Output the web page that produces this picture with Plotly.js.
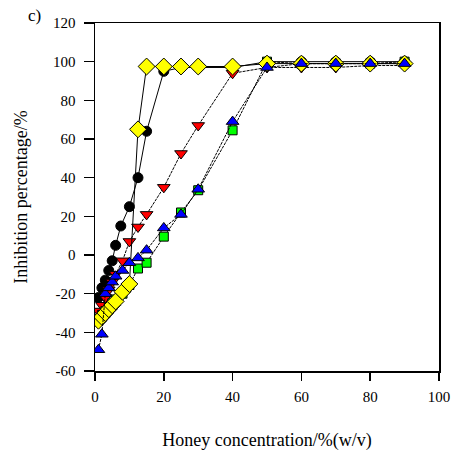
<!DOCTYPE html>
<html>
<head>
<meta charset="utf-8">
<script src="https://cdn.plot.ly/plotly-3.0.1.min.js"></script>
<style>html,body{margin:0;padding:0;background:#fff;}#chart{width:454px;height:451px;}</style>
</head>
<body>
<div id="chart"></div>
<script>
// Honey concentration (% w/v)
const concBlack  = [1, 2, 3, 4, 5, 6, 7.5, 10, 12.5, 15, 20, 25, 30, 40, 50, 60, 70, 80, 90];
const inhBlack   = [-22, -17, -13, -8, -3, 5, 15, 25, 40, 64, 95, 97, 97, 97, 100, 100, 100, 100, 100];

const concRed    = [1, 2, 3, 4, 5, 6, 8, 10, 12.5, 15, 20, 25, 30, 40, 50, 60, 70, 80, 90];
const inhRed     = [-29, -26, -22, -18, -14, -10, -3, 7, 14.5, 21, 35, 52.5, 67, 94, 97, 97, 97, 98, 98];

const concGreen  = [1, 2, 3, 4, 5, 6, 8, 10, 12.5, 15, 20, 25, 30, 40, 50, 60, 70, 80, 90];
const inhGreen   = [-33, -31, -29, -27, -25, -23, -20, -15.5, -7, -4, 9.5, 22, 33.5, 64.5, 100, 99, 99, 99, 100];

const concYellow = [1, 2, 3, 4, 5, 6, 8, 10, 12.5, 15, 20, 25, 30, 40, 50, 60, 70, 80, 90];
const inhYellow  = [-34, -32, -30, -28, -26, -24, -19, -15, 65, 97.5, 97.5, 97.5, 97.5, 97.5, 99, 99, 99, 99, 99];

const concBlue   = [1, 2, 3, 4, 5, 6, 8, 10, 12.5, 15, 20, 25, 30, 40, 50, 60, 70, 80, 90];
const inhBlue    = [-49, -41, -20, -17, -14, -11, -8, -4, -1.5, 2.5, 14, 21, 34, 69, 97, 99, 99, 99, 99];

const xTicks = [0, 20, 40, 60, 80, 100];
const yTicks = [-60, -40, -20, 0, 20, 40, 60, 80, 100, 120];

function series(x, y, symbol, color, size, dash) {
  return {
    x: x, y: y, type: 'scatter', mode: 'lines+markers',
    line: {color: '#000', width: 1, dash: dash},
    marker: {symbol: symbol, color: color, size: size, line: {color: '#000', width: 1}},
    showlegend: false, hoverinfo: 'skip'
  };
}

const data = [
  series(concBlack, inhBlack, 'circle', '#000000', 10, 'solid'),
  series(concRed, inhRed, 'triangle-down', '#FF0000', 11, '3px,1px'),
  series(concGreen, inhGreen, 'square', '#00FF00', 9, '3px,1px'),
  series(concYellow, inhYellow, 'diamond', '#FFFF00', 13, 'solid'),
  series(concBlue, inhBlue, 'triangle-up', '#0000FF', 11, '3px,1px')
];

const tickFont = {family: 'Liberation Serif, Times New Roman, serif', size: 15, color: '#000'};
const titleFont = {family: 'Liberation Serif, Times New Roman, serif', size: 18, color: '#000'};

const layout = {
  width: 454, height: 451,
  margin: {l: 95, r: 15, t: 23, b: 80},
  paper_bgcolor: '#fff', plot_bgcolor: '#fff',
  xaxis: {
    range: [0, 100], tickvals: xTicks, ticktext: xTicks.map(String),
    showgrid: false, zeroline: false, showline: true, mirror: true,
    linecolor: '#000', linewidth: 1.5, ticks: 'outside', ticklen: 8, tickwidth: 1.5, tickcolor: '#000',
    tickfont: tickFont, ticklabelstandoff: 3,
    title: {text: 'Honey concentration/%(w/v)', font: titleFont, standoff: 30}
  },
  yaxis: {
    range: [-60, 120], tickvals: yTicks, ticktext: yTicks.map(String),
    showgrid: false, zeroline: false, showline: true, mirror: true,
    linecolor: '#000', linewidth: 1.5, ticks: 'outside', ticklen: 10, tickwidth: 1.5, tickcolor: '#000',
    tickfont: tickFont, ticklabelstandoff: 5,
    title: {text: 'Inhibition percentage/%', font: titleFont, standoff: 20}
  },
  annotations: [{
    text: 'c)', xref: 'paper', yref: 'paper', x: -0.2, y: 1.055,
    xanchor: 'left', yanchor: 'top', showarrow: false,
    font: {family: 'Liberation Serif, Times New Roman, serif', size: 17, color: '#000'}
  }]
};

Plotly.newPlot('chart', data, layout, {staticPlot: true, displayModeBar: false});
</script>
</body>
</html>
